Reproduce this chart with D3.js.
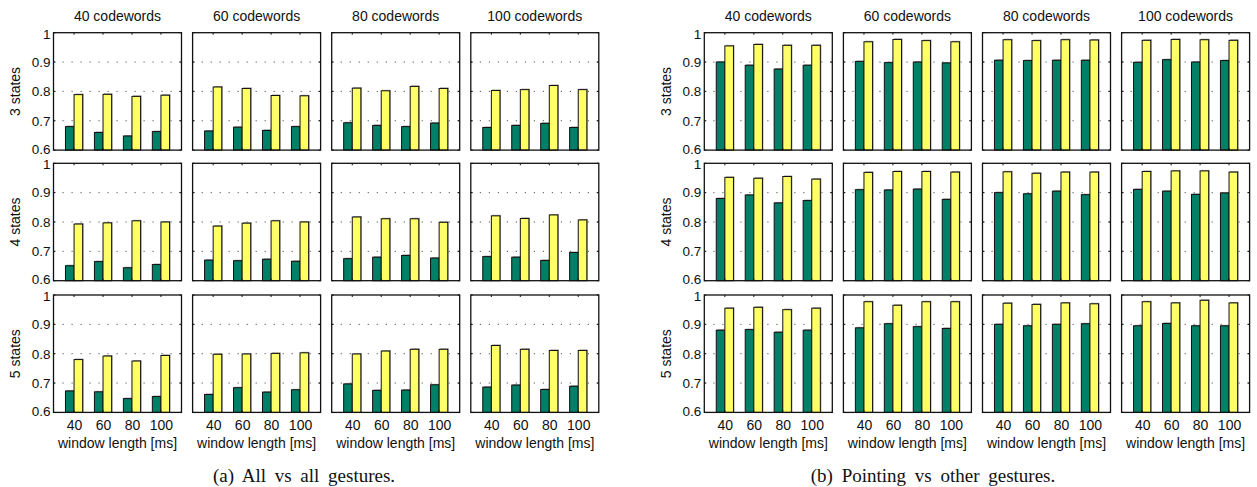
<!DOCTYPE html>
<html>
<head>
<meta charset="utf-8">
<script src="https://cdn.jsdelivr.net/npm/d3@7"></script>
<style>
  body { margin: 0; background: #fff; }
  svg { display: block; }
  text { font-family: "Liberation Sans", Arial, sans-serif; fill: #111; }
  .caption { font-family: "Liberation Serif", "Times New Roman", serif; }
</style>
</head>
<body>
<svg id="chart"></svg>
<script>
// categories / labels
var windowLengths = ["40", "60", "80", "100"];
var codewords = ["40 codewords", "60 codewords", "80 codewords", "100 codewords"];
var stateLabels = ["3 states", "4 states", "5 states"];
var yTicks = [0.6, 0.7, 0.8, 0.9, 1];
var captions = ["(a) All vs all gestures.", "(b) Pointing vs other gestures."];

// (a) all vs all: one inner array per codeword column, values per window length
var allDark3 = [[0.680, 0.660, 0.648, 0.663], [0.665, 0.678, 0.667, 0.680], [0.693, 0.684, 0.680, 0.692], [0.677, 0.684, 0.691, 0.677]];
var allLight3 = [[0.789, 0.790, 0.783, 0.787], [0.815, 0.810, 0.786, 0.785], [0.811, 0.802, 0.817, 0.810], [0.803, 0.806, 0.820, 0.806]];
var allDark4 = [[0.651, 0.665, 0.644, 0.655], [0.670, 0.668, 0.673, 0.666], [0.675, 0.680, 0.686, 0.677], [0.682, 0.680, 0.669, 0.696]];
var allLight4 = [[0.793, 0.797, 0.804, 0.800], [0.786, 0.796, 0.804, 0.800], [0.817, 0.811, 0.811, 0.799], [0.821, 0.812, 0.824, 0.807]];
var allDark5 = [[0.673, 0.670, 0.647, 0.654], [0.661, 0.684, 0.669, 0.677], [0.697, 0.675, 0.676, 0.694], [0.686, 0.693, 0.678, 0.689]];
var allLight5 = [[0.780, 0.792, 0.775, 0.794], [0.798, 0.799, 0.801, 0.803], [0.799, 0.809, 0.815, 0.815], [0.828, 0.815, 0.811, 0.811]];

// (b) pointing vs other gestures
var ptDark3 = [[0.900, 0.889, 0.876, 0.889], [0.902, 0.898, 0.900, 0.897], [0.906, 0.905, 0.906, 0.906], [0.899, 0.908, 0.900, 0.905]];
var ptLight3 = [[0.955, 0.960, 0.957, 0.957], [0.969, 0.977, 0.973, 0.969], [0.976, 0.973, 0.976, 0.975], [0.974, 0.977, 0.976, 0.974]];
var ptDark4 = [[0.880, 0.892, 0.865, 0.873], [0.910, 0.909, 0.912, 0.877], [0.900, 0.896, 0.905, 0.893], [0.911, 0.905, 0.894, 0.899]];
var ptLight4 = [[0.952, 0.949, 0.955, 0.946], [0.969, 0.972, 0.972, 0.970], [0.971, 0.966, 0.970, 0.970], [0.972, 0.974, 0.974, 0.970]];
var ptDark5 = [[0.880, 0.882, 0.873, 0.880], [0.888, 0.902, 0.892, 0.886], [0.900, 0.895, 0.900, 0.902], [0.895, 0.903, 0.895, 0.895]];
var ptLight5 = [[0.955, 0.958, 0.950, 0.955], [0.977, 0.965, 0.977, 0.977], [0.972, 0.968, 0.973, 0.970], [0.977, 0.973, 0.982, 0.973]];

var figures = [
  {dark: [allDark3, allDark4, allDark5], light: [allLight3, allLight4, allLight5]},
  {dark: [ptDark3, ptDark4, ptDark5], light: [ptLight3, ptLight4, ptLight5]}
];

var screen = {width: 1257, height: 487};
var figLeft = [53.5, 704.3];
var captionX = [304, 933];
var panelW = 128, panelH = 117.4, colStep = 139.1, rowTops = [32.7, 163.3, 295];
var darkColor = "#008066", lightColor = "#ffff66";

var svg = d3.select("#chart")
    .attr("width", screen.width)
    .attr("height", screen.height);

var xScale = d3.scaleLinear().domain([0.29, 4.71]).range([0, panelW]);
var yScale = d3.scaleLinear().domain([0.6, 1]).range([panelH, 0]);
var barW = 8.6;

figures.forEach(function(fig, fi){
  var fg = svg.append("g").attr("class", "figure");

  rowTops.forEach(function(top, ri){
    // row label
    fg.append("text")
      .attr("transform", "translate(" + (figLeft[fi] - 38) + "," + (top + panelH / 2) + ") rotate(-90)")
      .attr("text-anchor", "middle")
      .attr("dy", "0.35em")
      .style("font-size", "14px")
      .text(stateLabels[ri]);

    codewords.forEach(function(cw, ci){
      var left = figLeft[fi] + ci * colStep;
      var g = fg.append("g").attr("transform", "translate(" + left + "," + top + ")");

      // column titles
      if (ri === 0) {
        g.append("text")
          .attr("x", panelW / 2).attr("y", -12)
          .attr("text-anchor", "middle")
          .style("font-size", "14px")
          .text(cw);
      }

      // dotted grid
      g.selectAll(".grid").data([0.7, 0.8, 0.9]).enter().append("line")
        .attr("x1", 0).attr("x2", panelW)
        .attr("y1", function(d){ return yScale(d); })
        .attr("y2", function(d){ return yScale(d); })
        .attr("stroke", "#555").attr("stroke-width", 1)
        .attr("stroke-dasharray", "1.2,7.8");

      var dark = fig.dark[ri][ci], light = fig.light[ri][ci];
      var bars = [];
      windowLengths.forEach(function(w, k){
        bars.push({k: k + 1, v: dark[k], off: -barW, color: darkColor});
        bars.push({k: k + 1, v: light[k], off: 0, color: lightColor});
      });

      // soft shadow behind bars
      g.selectAll(".shadow").data(bars).enter().append("rect")
        .attr("x", function(d){ return xScale(d.k) + d.off + 1; })
        .attr("y", function(d){ return yScale(d.v) - 1; })
        .attr("width", barW)
        .attr("height", function(d){ return panelH - yScale(d.v) + 1; })
        .attr("fill", "#9a9a9a");

      g.selectAll(".bar").data(bars).enter().append("rect")
        .attr("x", function(d){ return xScale(d.k) + d.off; })
        .attr("y", function(d){ return yScale(d.v); })
        .attr("width", barW)
        .attr("height", function(d){ return panelH - yScale(d.v); })
        .attr("fill", function(d){ return d.color; })
        .attr("stroke", "#111").attr("stroke-width", 1);

      // frame and inner ticks
      g.append("rect")
        .attr("width", panelW).attr("height", panelH)
        .attr("fill", "none").attr("stroke", "#111").attr("stroke-width", 1.3);

      var xt = [1, 2, 3, 4];
      g.selectAll(".xt").data(xt).enter().append("path")
        .attr("d", function(d){ var x = xScale(d); return "M" + x + ",0v2M" + x + "," + panelH + "v-2"; })
        .attr("stroke", "#111").attr("stroke-width", 1);
      g.selectAll(".yt").data(yTicks).enter().append("path")
        .attr("d", function(d){ var y = yScale(d); return "M0," + y + "h2M" + panelW + "," + y + "h-2"; })
        .attr("stroke", "#111").attr("stroke-width", 1);

      // y axis labels on first column
      if (ci === 0) {
        var ya = g.append("g")
          .call(d3.axisLeft(yScale).tickValues(yTicks).tickSize(0).tickPadding(3)
            .tickFormat(function(d){ return d === 1 ? "1" : d3.format(".1f")(d); }));
        ya.select(".domain").remove();
        ya.selectAll("text")
          .style("font-size", "13.5px")
          .style("font-family", "Liberation Sans, Arial, sans-serif")
          .attr("fill", "#111")
          .attr("dy", function(d){ return d === 1 ? "0.42em" : (d === 0.6 ? "0.22em" : "0.32em"); });
      }

      // x axis labels on last row
      if (ri === 2) {
        var xa = g.append("g").attr("transform", "translate(0," + panelH + ")")
          .call(d3.axisBottom(xScale).tickValues(xt).tickSize(0).tickPadding(8)
            .tickFormat(function(d){ return windowLengths[d - 1]; }));
        xa.select(".domain").remove();
        xa.selectAll("text").style("font-size", "14px").style("font-family", "Liberation Sans, Arial, sans-serif").attr("fill", "#111");
        g.append("text")
          .attr("x", panelW / 2).attr("y", panelH + 36)
          .attr("text-anchor", "middle")
          .style("font-size", "14px")
          .text("window length [ms]");
      }
    });
  });

  fg.append("text")
    .attr("class", "caption")
    .attr("x", captionX[fi]).attr("y", 482)
    .attr("text-anchor", "middle")
    .style("font-size", "19px")
    .style("word-spacing", "4px")
    .text(captions[fi]);
});
</script>
</body>
</html>
